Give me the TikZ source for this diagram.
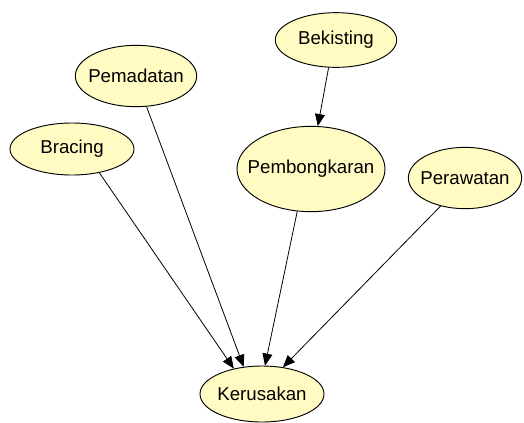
\documentclass[tikz,border=0pt]{standalone}
\usepackage{fontspec}
\setmainfont{Liberation Sans}
\usepackage{tikz}
\usetikzlibrary{arrows.meta,shapes.geometric}
\definecolor{nodeyellow}{RGB}{255,251,194}

\begin{document}
\begin{tikzpicture}[
      x=0.75pt, y=-0.75pt,
      var/.style={ellipse, draw, fill=nodeyellow, line width=0.7pt,
                  inner xsep=-20pt, inner ysep=0pt,
                  font=\fontsize{14pt}{16pt}\selectfont},
      link/.style={-{Triangle[length=9pt, width=7.5pt]}, line width=0.6pt}]
    \useasboundingbox (0,0) rectangle (524,422);

    % sizes in pt (= 0.75 x pixels)
    \node[var, minimum width=91pt, minimum height=41pt] (bekisting) at (336,40) {Bekisting};
    \node[var, minimum width=91pt, minimum height=46pt] (pemadatan) at (136,76) {Pemadatan};
    \node[var, minimum width=93pt, minimum height=39pt] (bracing) at (72,149) {Bracing};
    \node[var, minimum width=111pt, minimum height=64pt] (pembongkaran) at (311,169) {Pembongkaran};
    \node[var, minimum width=85pt, minimum height=46pt] (perawatan) at (465,178) {Perawatan};
    \node[var, minimum width=93pt, minimum height=42pt] (kerusakan) at (262,394) {Kerusakan};

    \draw[link] (bekisting.-105) -- (pembongkaran.81);
    \draw[link] (bracing.-41) -- (kerusakan.138);
    \draw[link] (pemadatan.-71) -- (kerusakan.124);
    \draw[link] (pembongkaran.-108) -- (kerusakan.84);
    \draw[link] (perawatan.-131) -- (kerusakan.52);
  \end{tikzpicture}
\end{document}
